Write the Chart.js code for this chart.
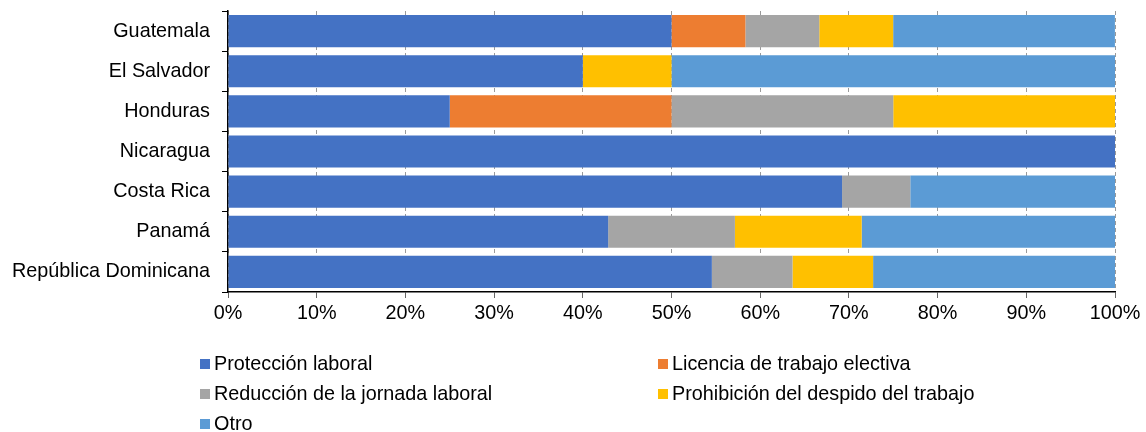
<!DOCTYPE html>
<html>
<head>
<meta charset="utf-8">
<script src="https://cdn.jsdelivr.net/npm/chart.js@4"></script>
<style>
  html, body { margin: 0; padding: 0; background: #fff; }
  #wrap { position: relative; width: 1146px; height: 432px; overflow: hidden; }
  #c { position: absolute; left: 0; top: 0; }
  .lg { position: absolute; font-family: "Liberation Sans", Arial, sans-serif; font-size: 19.8px; color: #000; white-space: nowrap; line-height: 22px; }
  .lg span.sw { display: inline-block; width: 10px; height: 10px; margin-right: 4px; vertical-align: 1px; }
</style>
</head>
<body>
<div id="wrap">
  <canvas id="c" width="1146" height="432"></canvas>
  <div id="legend"></div>
</div>
<script>
const categories = ["Guatemala", "El Salvador", "Honduras", "Nicaragua", "Costa Rica", "Panamá", "República Dominicana"];
const seriesNames = ["Protección laboral", "Licencia de trabajo electiva", "Reducción de la jornada laboral", "Prohibición del despido del trabajo", "Otro"];
const proteccion = [50.0, 40.0, 25.0, 100.0, 69.23, 42.86, 54.55];
const licencia   = [8.33, 0, 25.0, 0, 0, 0, 0];
const reduccion  = [8.33, 0, 25.0, 0, 7.69, 14.29, 9.09];
const prohibicion= [8.33, 10.0, 25.0, 0, 0, 14.29, 9.09];
const otro       = [25.0, 50.0, 0, 0, 23.08, 28.57, 27.27];
const tickLabels = ["0%", "10%", "20%", "30%", "40%", "50%", "60%", "70%", "80%", "90%", "100%"];
const colors = ["#4472C4", "#ED7D31", "#A5A5A5", "#FFC000", "#5B9BD5"];

const seriesValues = [proteccion, licencia, reduccion, prohibicion, otro];
const FONT = "'Liberation Sans', Arial, sans-serif";

new Chart(document.getElementById('c'), {
  type: 'bar',
  data: {
    labels: categories,
    datasets: seriesNames.map((n, i) => ({
      label: n,
      data: seriesValues[i],
      backgroundColor: colors[i],
      borderWidth: 0,
      barPercentage: 0.8,
      categoryPercentage: 1.0
    }))
  },
  options: {
    indexAxis: 'y',
    responsive: false,
    animation: false,
    layout: { padding: { top: 11, right: 31, left: 0, bottom: 0 } },
    plugins: { legend: { display: false }, tooltip: { enabled: false } },
    scales: {
      x: {
        stacked: true,
        min: 0, max: 100,
        afterFit: (s) => { s.height = 140; s.paddingLeft = 0; s.paddingRight = 0; },
        ticks: {
          stepSize: 10,
          autoSkip: false,
          maxRotation: 0,
          padding: 4,
          color: '#000',
          font: { family: FONT, size: 19.8 },
          callback: (v, i) => tickLabels[i]
        },
        grid: {
          color: '#9a9a9a',
          lineWidth: 1,
          tickLength: 6,
          tickColor: '#666',
          drawTicks: true
        },
        border: { display: true, color: '#000', width: 1.5, dash: [4, 3] }
      },
      y: {
        stacked: true,
        afterFit: (s) => { s.width = 228; s.paddingTop = 0; s.paddingBottom = 0; },
        ticks: {
          padding: 12,
          color: '#000',
          font: { family: FONT, size: 19.8 }
        },
        grid: {
          offset: true,
          drawOnChartArea: false,
          tickLength: 6,
          tickColor: '#000'
        },
        border: { display: true, color: '#000', width: 1.5 }
      }
    }
  }
});

const legendPos = [
  [200, 363], [658, 363],
  [200, 393], [658, 393],
  [200, 423]
];
const lg = document.getElementById('legend');
seriesNames.forEach((n, i) => {
  const d = document.createElement('div');
  d.className = 'lg';
  d.style.left = legendPos[i][0] + 'px';
  d.style.top = (legendPos[i][1] - 11) + 'px';
  d.innerHTML = '<span class="sw" style="background:' + colors[i] + '"></span>' + n;
  lg.appendChild(d);
});
</script>
</body>
</html>
